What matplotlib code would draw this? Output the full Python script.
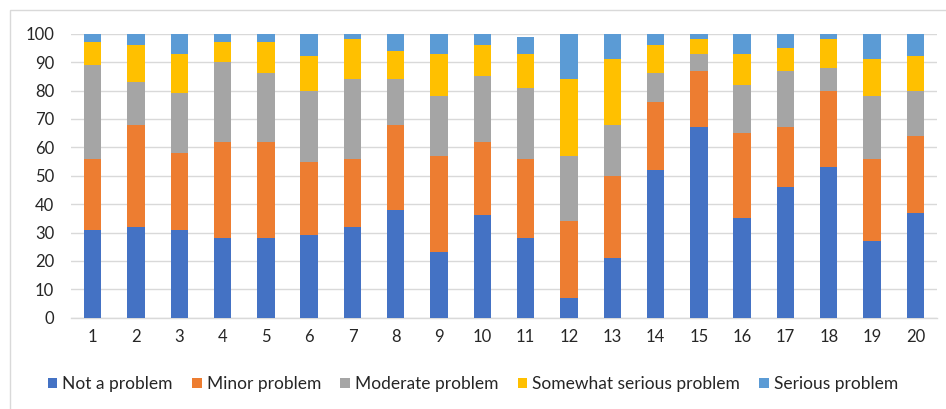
import numpy as np
import matplotlib.pyplot as plt
from matplotlib.patches import Rectangle

plt.rcParams['font.family'] = ['Lato', 'DejaVu Sans']

# Data (percent per item)
items = [str(i) for i in range(1, 21)]
not_a_problem = [31, 32, 31, 28, 28, 29, 32, 38, 23, 36, 28, 7, 21, 52, 67, 35, 46, 53, 27, 37]
minor = [25, 36, 27, 34, 34, 26, 24, 30, 34, 26, 28, 27, 29, 24, 20, 30, 21, 27, 29, 27]
moderate = [33, 15, 21, 28, 24, 25, 28, 16, 21, 23, 25, 23, 18, 10, 6, 17, 20, 8, 22, 16]
somewhat_serious = [8, 13, 14, 7, 11, 12, 14, 10, 15, 11, 12, 27, 23, 10, 5, 11, 8, 10, 13, 12]
serious = [3, 4, 7, 3, 3, 8, 2, 6, 7, 4, 6, 16, 9, 4, 2, 7, 5, 2, 9, 8]

series = [not_a_problem, minor, moderate, somewhat_serious, serious]
labels = ['Not a problem', 'Minor problem', 'Moderate problem',
          'Somewhat serious problem', 'Serious problem']
colors = ['#4472C4', '#ED7D31', '#A5A5A5', '#FFC000', '#5B9BD5']

fig = plt.figure(figsize=(9.46, 4.09), dpi=100)
ax = fig.add_axes([71 / 946, 1 - 317.7 / 409, 866 / 946, 284 / 409])

x = np.arange(1, 21)
bottom = np.zeros(20)
for vals, lab, col in zip(series, labels, colors):
    ax.bar(x, vals, 0.4, bottom=bottom, color=col, label=lab, zorder=3)
    bottom += np.array(vals)

ax.set_xlim(0.5, 20.5)
ax.set_ylim(0, 100)
ax.set_yticks(range(0, 101, 10))
ax.set_xticks(x)
ax.set_xticklabels(items)
ax.grid(axis='y', color='#d9d9d9', linewidth=1, zorder=0)
for s in ['top', 'right', 'left']:
    ax.spines[s].set_visible(False)
ax.spines['bottom'].set_color('#d9d9d9')
ax.spines['bottom'].set_linewidth(1)
ax.tick_params(length=0, labelsize=12, colors='#262626', pad=8)
ax.tick_params(axis='y', pad=12)

leg = fig.legend(loc='center', bbox_to_anchor=(0.5, 1 - 384 / 409), ncol=5,
                 frameon=False, fontsize=12.5, handlelength=0.55, handleheight=0.55,
                 handletextpad=0.3, columnspacing=1.1)
for t in leg.get_texts():
    t.set_color('#262626')

# outer chart frame
fig.patches.append(Rectangle((9.5 / 946, -0.1), 1.2, 1 - 9.5 / 409 + 0.1,
                             transform=fig.transFigure, fill=False,
                             edgecolor='#d9d9d9', linewidth=1))

fig.savefig('out.png', dpi=100)
